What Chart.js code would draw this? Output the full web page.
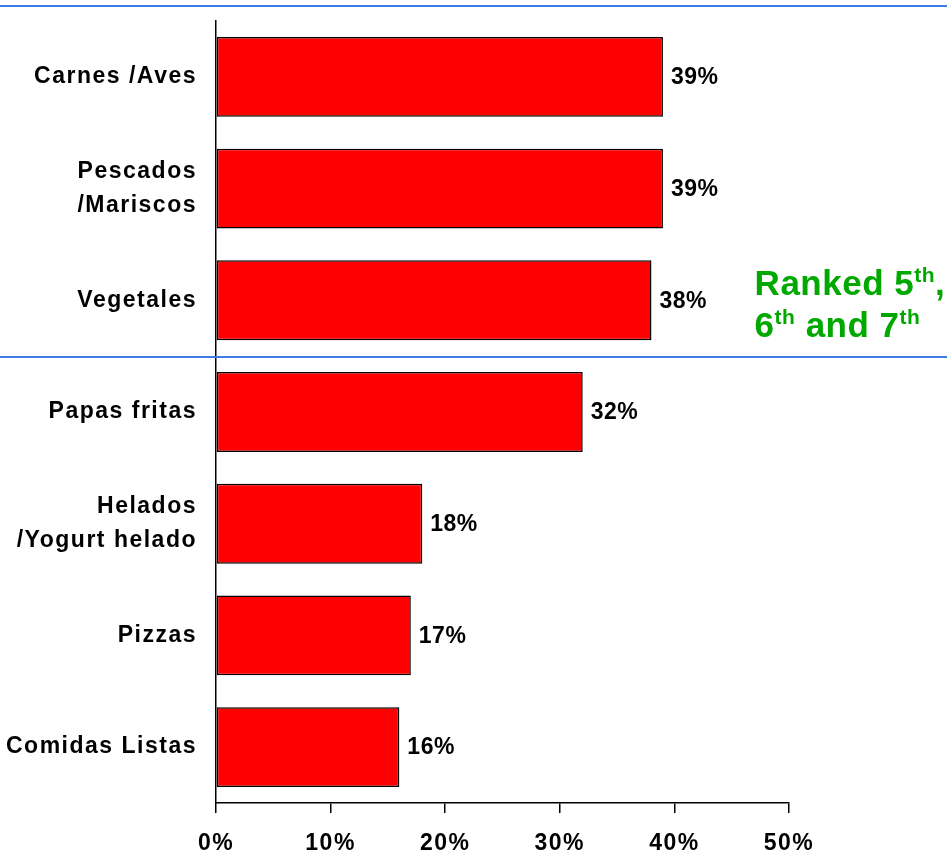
<!DOCTYPE html>
<html>
<head>
<meta charset="utf-8">
<script src="https://cdn.jsdelivr.net/npm/chart.js@4.4.1/dist/chart.umd.min.js"></script>
<style>
  html, body { margin: 0; padding: 0; background: #ffffff; }
  #wrap { width: 947px; height: 855px; position: relative; }
</style>
</head>
<body>
<div id="wrap"><canvas id="c" width="947" height="855"></canvas></div>
<script>
const categories = [
  "Carnes /Aves",
  ["Pescados", "/Mariscos"],
  "Vegetales",
  "Papas fritas",
  ["Helados", "/Yogurt helado"],
  "Pizzas",
  "Comidas Listas"
];
const values = [39, 39, 38, 32, 18, 17, 16];
const tickValues = [0, 10, 20, 30, 40, 50];
const noteLine1 = ["Ranked 5", "th", ","];
const noteLine2 = [["6", "th"], [" and 7", "th"]];

const FONT = "'Liberation Sans', Arial, Helvetica, sans-serif";
Chart.defaults.font.family = FONT;
Chart.defaults.color = '#000000';

const SP = '1.5px';
const spacingPlugin = {
  id: 'spacing',
  beforeUpdate(chart) { chart.ctx.letterSpacing = SP; },
  beforeLayout(chart) { chart.ctx.letterSpacing = SP; },
  beforeDraw(chart) { chart.ctx.letterSpacing = SP; }
};

const decorPlugin = {
  id: 'decor',
  afterDraw(chart) {
    const ctx = chart.ctx;
    const y = chart.scales.y;
    const x = chart.scales.x;
    ctx.save();
    // blue separator lines
    ctx.strokeStyle = '#3b7de4';
    ctx.lineWidth = 2;
    const topY = Math.round(y.getPixelForValue(-0.5)) - 15;
    const midY = Math.round(y.getPixelForValue(2.5)) + 1;
    ctx.beginPath();
    ctx.moveTo(0, topY); ctx.lineTo(chart.width, topY);
    ctx.moveTo(0, midY); ctx.lineTo(chart.width, midY);
    ctx.stroke();

    // data labels
    const meta = chart.getDatasetMeta(0);
    ctx.fillStyle = '#000000';
    ctx.font = 'bold 23px ' + FONT;
    ctx.letterSpacing = '0.5px';
    ctx.textAlign = 'left';
    ctx.textBaseline = 'middle';
    meta.data.forEach((bar, i) => {
      ctx.fillText(values[i] + '%', bar.x + 8, bar.y + 1);
    });

    // green note
    ctx.fillStyle = '#00a800';
    ctx.textBaseline = 'alphabetic';
    const big = 'bold 35px ' + FONT;
    const small = 'bold 21px ' + FONT;
    ctx.letterSpacing = '0.5px';
    const cx = x.getPixelForValue(47.0);
    const cy = y.getPixelForValue(2);
    let px = cx;
    const b1 = cy - 5;
    ctx.font = big; ctx.fillText(noteLine1[0], px, b1); px += ctx.measureText(noteLine1[0]).width;
    ctx.font = small; ctx.fillText(noteLine1[1], px, b1 - 13); px += ctx.measureText(noteLine1[1]).width;
    ctx.font = big; ctx.fillText(noteLine1[2], px, b1);
    px = cx;
    const b2 = cy + 37;
    noteLine2.forEach(part => {
      ctx.font = big; ctx.fillText(part[0], px, b2); px += ctx.measureText(part[0]).width;
      ctx.font = small; ctx.fillText(part[1], px, b2 - 13); px += ctx.measureText(part[1]).width;
    });
    ctx.restore();
  }
};

new Chart(document.getElementById('c'), {
  type: 'bar',
  data: {
    labels: categories,
    datasets: [{
      data: values,
      backgroundColor: '#ff0000',
      borderColor: '#000000',
      borderWidth: 1.5,
      borderSkipped: false,
      categoryPercentage: 1.0,
      barPercentage: 0.715
    }]
  },
  options: {
    indexAxis: 'y',
    responsive: false,
    animation: false,
    devicePixelRatio: 1,
    layout: { padding: { top: 21, right: 158, left: 0, bottom: 0 } },
    plugins: {
      legend: { display: false },
      tooltip: { enabled: false },
      title: { display: false }
    },
    scales: {
      x: {
        type: 'linear',
        position: 'bottom',
        min: 0,
        max: 50,
        afterBuildTicks(scale) { scale.ticks = tickValues.map(v => ({ value: v })); },
        afterFit(scale) { scale.height = 52; },
        ticks: {
          callback: v => v + '%',
          font: { size: 23, weight: 'bold' },
          color: '#000000',
          padding: 17,
          maxRotation: 0
        },
        grid: {
          drawOnChartArea: false,
          drawTicks: true,
          tickLength: 10,
          color: '#000000',
          lineWidth: 1.5
        },
        border: { display: true, color: '#000000', width: 1.5 }
      },
      y: {
        afterFit(scale) { scale.width = 216; scale.paddingTop = 0; scale.paddingBottom = 0; },
        ticks: {
          font: { size: 23, weight: 'bold', lineHeight: 1.45 },
          color: '#000000',
          padding: 11
        },
        grid: { display: false },
        border: { display: true, color: '#000000', width: 1.5 }
      }
    }
  },
  plugins: [spacingPlugin, decorPlugin]
});
</script>
</body>
</html>
